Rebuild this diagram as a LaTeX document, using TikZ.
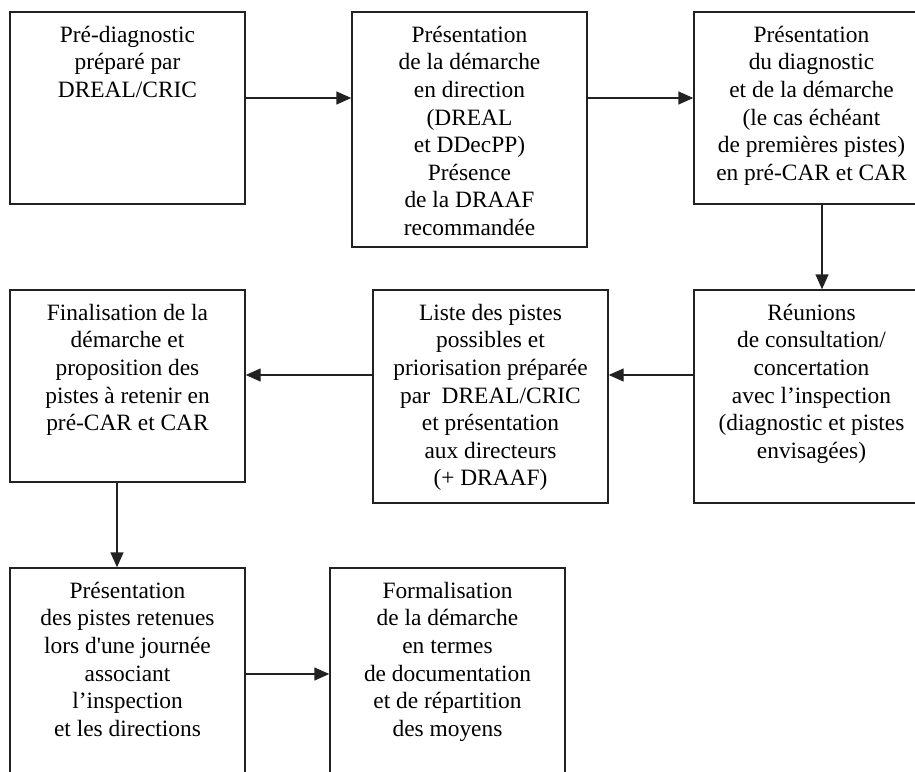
\documentclass[tikz,border=0pt]{standalone}
\usepackage{fontspec}
\setmainfont{Liberation Serif}[Ligatures=TeXOff]
\usetikzlibrary{arrows.meta}
\definecolor{ink}{HTML}{222222}
\tikzset{
  box/.style={draw=ink, line width=1.4pt, rectangle, inner sep=0pt},
  txt/.style={anchor=north, align=center, inner sep=0pt, text=black,
              font=\fontsize{23.4}{27.6}\selectfont},
  arr/.style={draw=ink, line width=1.4pt, -{Triangle[length=15pt,width=13pt]}}
}
\begin{document}
\begin{tikzpicture}[x=1pt,y=-1pt]
\useasboundingbox (0,0) rectangle (915,771);
\clip (0,0) rectangle (915,771);
\fill[white] (0,0) rectangle (915,771);
% boxes
\node[box, minimum width=235pt, minimum height=192pt] (b1) at (127.5,108) {};
\node[box, minimum width=235pt, minimum height=235pt] (b2) at (469.5,129.5) {};
\node[box, minimum width=235pt, minimum height=192pt] (b3) at (811.5,108) {};
\node[box, minimum width=235pt, minimum height=213pt] (b4) at (811.5,396.5) {};
\node[box, minimum width=235pt, minimum height=213pt] (b5) at (490.5,396.5) {};
\node[box, minimum width=235pt, minimum height=192pt] (b6) at (127.5,386) {};
\node[box, minimum width=235pt, minimum height=224pt] (b7) at (127.5,680) {};
\node[box, minimum width=235pt, minimum height=224pt] (b8) at (447.5,680) {};
% texts
\node[txt] (t1) at ([yshift=-11.4pt]b1.north) {\strut Pré-diagnostic\\préparé par\\DREAL/CRIC};
\node[txt] (t2) at ([yshift=-11.4pt]b2.north) {\strut Présentation\\de la démarche\\en direction\\(DREAL\\et DDecPP)\\Présence\\de la DRAAF\\recommandée};
\node[txt] (t3) at ([yshift=-11.4pt]b3.north) {\strut Présentation\\du diagnostic\\et de la démarche\\(le cas échéant\\de premières pistes)\\en pré-CAR et CAR};
\node[txt] (t4) at ([yshift=-11.4pt]b4.north) {\strut Réunions\\de consultation/\\concertation\\avec l’inspection\\(diagnostic et pistes\\envisagées)};
\node[txt] (t5) at ([yshift=-11.4pt]b5.north) {\strut Liste des pistes\\possibles et\\priorisation préparée\\par\ \ DREAL/CRIC\\et présentation\\aux directeurs\\(+ DRAAF)};
\node[txt] (t6) at ([yshift=-11.4pt]b6.north) {\strut Finalisation de la\\démarche et\\proposition des\\pistes à retenir en\\pré-CAR et CAR};
\node[txt] (t7) at ([yshift=-11.4pt]b7.north) {\strut Présentation\\des pistes retenues\\lors d'une journée\\associant\\l’inspection\\et les directions};
\node[txt] (t8) at ([yshift=-11.4pt]b8.north) {\strut Formalisation\\de la démarche\\en termes\\de documentation\\et de répartition\\des moyens};
% connectors
\draw[arr] ([yshift=10pt]b1.east) -- ([yshift=10pt]b1.east -| b2.west);
\draw[arr] ([yshift=10pt]b1.east -| b2.east) -- ([yshift=10pt]b1.east -| b3.west);
\draw[arr] ([xshift=10.5pt]b3.south) -- ([xshift=10.5pt]b3.south |- b4.north);
\draw[arr] ([yshift=21.5pt]b4.west) -- ([yshift=21.5pt]b4.west -| b5.east);
\draw[arr] ([yshift=21.5pt]b4.west -| b5.west) -- ([yshift=21.5pt]b4.west -| b6.east);
\draw[arr] ([xshift=-10.5pt]b6.south) -- ([xshift=-10.5pt]b6.south |- b7.north);
\draw[arr] ([yshift=6pt]b7.east) -- ([yshift=6pt]b7.east -| b8.west);
\end{tikzpicture}
\end{document}
